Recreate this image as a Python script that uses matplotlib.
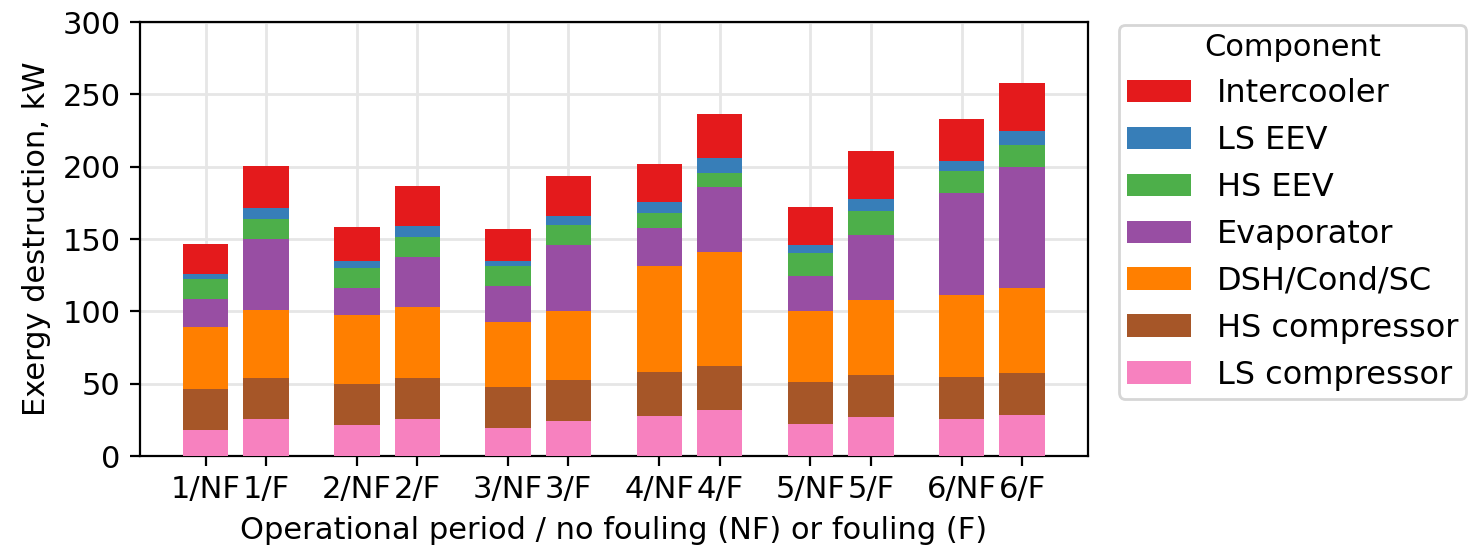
import numpy as np
import matplotlib
matplotlib.use('Agg')
import matplotlib.pyplot as plt

# Exergy destruction per component, kW (stacked bottom -> top)
periods = ['1', '2', '3', '4', '5', '6']
labels = ['1/NF', '1/F', '2/NF', '2/F', '3/NF', '3/F',
          '4/NF', '4/F', '5/NF', '5/F', '6/NF', '6/F']

ls_comp = [18.2, 25.8, 21.7, 25.8, 19.6, 24.5, 27.9, 32.1, 22.4, 27.2, 25.8, 28.6]
hs_comp = [28.4, 28.4, 28.4, 28.4, 28.4, 28.3, 30.5, 30.4, 29.1, 29.1, 29.1, 29.1]
cond = [42.9, 46.4, 47.1, 48.5, 44.3, 47.1, 72.7, 78.3, 48.4, 51.2, 56.1, 58.2]
evap = [19.0, 49.4, 18.7, 34.6, 24.9, 45.7, 26.3, 45.2, 24.3, 45.0, 70.6, 83.7]
hs_eev = [13.8, 13.9, 13.8, 13.9, 13.9, 13.9, 10.4, 9.5, 15.9, 16.7, 15.3, 15.3]
ls_eev = [3.5, 7.3, 5.1, 7.6, 3.7, 6.2, 7.6, 10.4, 5.5, 8.3, 6.9, 9.7]
intercooler = [20.5, 29.1, 23.3, 27.7, 21.9, 27.7, 26.3, 30.4, 26.3, 33.2, 29.1, 33.2]

components = ['LS compressor', 'HS compressor', 'DSH/Cond/SC', 'Evaporator',
              'HS EEV', 'LS EEV', 'Intercooler']
series = [ls_comp, hs_comp, cond, evap, hs_eev, ls_eev, intercooler]
colors = ['#f781bf', '#a65628', '#ff7f00', '#984ea3', '#4daf4a', '#377eb8', '#e41a1c']

centers = np.arange(len(periods))
x = np.ravel(np.column_stack([centers - 0.2, centers + 0.2]))

fig = plt.figure(figsize=(7.34, 2.725), dpi=200)
ax = fig.add_axes([0.0954, 0.1633, 0.6457, 0.7963])

bottom = np.zeros(len(labels))
for name, vals, c in zip(components, series, colors):
    ax.bar(x, vals, 0.3, bottom=bottom, color=c, label=name, zorder=3)
    bottom += np.array(vals)

ax.set_xticks(x)
ax.set_xticklabels(labels)
ax.set_xlim(-0.634, 5.636)
ax.set_ylim(0, 300)
ax.tick_params(labelsize=11)
ax.grid(True, color='#e6e6e6', lw=1, zorder=0)
ax.set_xlabel('Operational period / no fouling (NF) or fouling (F)', fontsize=11)
ax.set_ylabel('Exergy destruction, kW', fontsize=11)

h, l = ax.get_legend_handles_labels()
fig.legend(h[::-1], l[::-1], title='Component', loc='upper right',
           bbox_to_anchor=(1466 / 1468, 1 - 25 / 545), fontsize=11.5,
           title_fontsize=11, borderaxespad=0, borderpad=0.25)

plt.savefig('out.png', dpi=200)
